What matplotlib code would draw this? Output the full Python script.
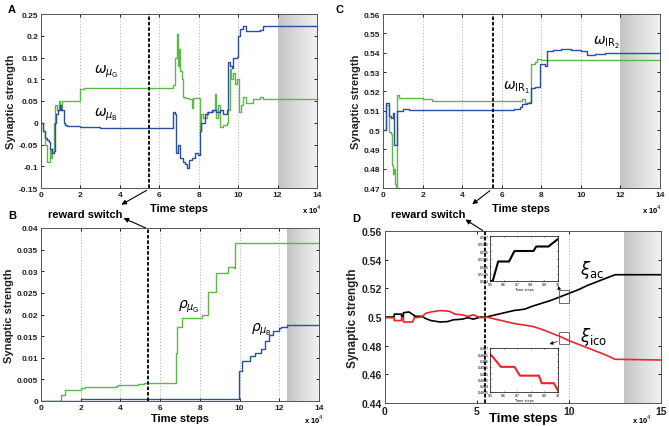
import matplotlib
matplotlib.use("Agg")
import matplotlib.pyplot as plt
import numpy as np
from matplotlib.ticker import FuncFormatter

plt.rcParams["font.family"] = ["Liberation Sans", "DejaVu Sans"]
plt.rcParams["axes.unicode_minus"] = False
plt.rcParams["mathtext.fontset"] = "dejavusans"

#------------------------
# Datos (leidos a ojo)
#------------------------
GREEN = "#5cb848"
BLUE = "#2b4ea0"
RED = "#e8262a"

# Panel A
a_g_x = [0, 0.1, 0.2, 0.3, 0.44, 0.5, 0.56, 0.64, 0.69, 0.72, 0.8, 0.9, 0.98, 1.06, 1.15, 2.0, 2.16,
         6.7, 6.8, 6.88, 6.93, 6.98, 7.05, 7.13, 7.22, 7.3, 7.5, 7.64, 7.7, 8.06, 8.12, 8.23, 8.4, 8.73,
         8.82, 8.9, 8.99, 9.07, 9.24, 9.41, 9.49, 9.58, 9.65, 9.75, 9.85, 9.95, 10.05, 10.15, 10.25,
         10.42, 10.76, 11.1, 11.26, 14]
a_g_y = [0, -0.02, -0.05, -0.09, -0.06, -0.08, -0.06, 0.0, 0.035, 0.04, 0.03, 0.05, 0.03, 0.05, 0.051, 0.077, 0.079,
         0.087, 0.15, 0.205, 0.13, 0.17, 0.12, 0.1, 0.06, 0.056, 0.055, 0.035, 0.056, -0.02, 0.02, 0.01, 0.024, 0.03,
         0.066, 0.01, 0.04, -0.01, -0.005, 0.0, 0.03, 0.124, 0.1, 0.115, 0.09, 0.1, 0.025, 0.04, 0.06,
         0.045, 0.055, 0.06, 0.054, 0.054]

a_b_x = [0, 0.1, 0.2, 0.3, 0.39, 0.47, 0.56, 0.64, 0.69, 0.76, 0.84, 0.94, 1.03, 1.15, 1.23, 1.3, 2.0, 3.0,
         6.68, 6.8, 6.85, 6.96, 7.05, 7.18, 7.3, 7.42, 7.52, 7.64, 7.8, 7.98, 8.06, 8.12, 8.31, 8.48, 8.65, 8.9,
         9.07, 9.24, 9.41, 9.49, 9.61, 9.7, 9.76, 9.95, 10.0, 10.08, 10.25, 10.42, 11.1, 11.26, 14]
a_b_y = [0, -0.02, -0.035, -0.04, -0.045, -0.06, -0.07, -0.065, 0.0, 0.02, 0.03, 0.04, 0.03, 0.0, -0.005, -0.008, -0.01, -0.012,
         0.025, 0.02, -0.07, -0.05, -0.08, -0.09, -0.095, -0.105, -0.085, -0.08, -0.07, -0.075, -0.02, 0.0, 0.02, 0.025, 0.03, 0.025,
         0.03, 0.02, 0.03, 0.14, 0.13, 0.125, 0.15, 0.152, 0.2, 0.215, 0.222, 0.212, 0.213, 0.222, 0.222]

# Panel B
b_g_x = [0, 1.0, 1.2, 2.0, 2.2, 3.8, 3.9, 4.5, 4.9, 5.2, 6.82, 6.86, 6.9, 7.1, 8.0, 8.1, 8.4, 8.8, 9.4, 9.7, 9.75, 14]
b_g_y = [0, 0.0015, 0.0025, 0.003, 0.0033, 0.0034, 0.0036, 0.0038, 0.004, 0.0042, 0.011, 0.017, 0.017, 0.0192, 0.0192, 0.02,
         0.0252, 0.0297, 0.031, 0.0308, 0.0365, 0.0365]
b_b_x = [0, 2.0, 9.9, 9.95, 10.1, 10.5, 10.8, 11.1, 11.3, 11.5, 11.7, 12.0, 12.1, 12.4, 14]
b_b_y = [0, 0.0005, 0.0005, 0.007, 0.0092, 0.0103, 0.011, 0.012, 0.0138, 0.0153, 0.0163, 0.0168, 0.017, 0.0175, 0.0175]

# Panel C
c_g_x = [0, 0.15, 0.3, 0.4, 0.45, 0.5, 0.55, 0.6, 0.65, 0.7, 0.8, 2.0, 2.5, 7.0, 7.2, 7.4, 7.5, 7.7, 7.8, 8.0, 14]
c_g_y = [0.5, 0.513, 0.499, 0.498, 0.482, 0.477, 0.48, 0.472, 0.469, 0.518, 0.5165, 0.516, 0.5152, 0.516, 0.514, 0.5145, 0.534,
         0.535, 0.5365, 0.536, 0.536]
c_b_x = [0, 0.15, 0.3, 0.4, 0.5, 0.55, 0.7, 1.0, 1.3, 6.6, 6.9, 7.0, 7.3, 7.5, 7.7, 7.9, 7.95, 8.2, 8.3, 8.6, 9.0, 9.5, 10.0,
         10.3, 10.7, 11.2, 14]
c_b_y = [0.5, 0.514, 0.507, 0.506, 0.509, 0.492, 0.510, 0.511, 0.5105, 0.511, 0.512, 0.5135, 0.514, 0.5215, 0.5225, 0.522,
         0.534, 0.533, 0.541, 0.5415, 0.542, 0.5415, 0.541, 0.539, 0.5395, 0.5398, 0.5398]

# Panel D
d_ac_x = [0, 0.5, 0.5, 0.9, 0.9, 1.0, 1.0, 1.3, 1.3, 1.6, 1.6, 2.0, 2.2, 2.5, 3.0, 3.4, 3.7, 4.2, 4.5, 4.8, 5.2, 5.5,
          6.0, 6.5, 7.0, 7.3, 7.6, 8.0, 8.5, 9.0, 9.5, 10.0, 10.5, 11.0, 11.5, 12.0, 12.5, 15]
d_ac_y = [0.5, 0.5, 0.502, 0.502, 0.5005, 0.5005, 0.503, 0.5035, 0.5035, 0.501, 0.5005, 0.5005, 0.499, 0.4975, 0.4965,
          0.4968, 0.498, 0.4985, 0.4995, 0.4985, 0.5, 0.5, 0.5015, 0.503, 0.5045, 0.505, 0.5055, 0.5075, 0.5095, 0.5115,
          0.514, 0.5165, 0.519, 0.522, 0.5245, 0.527, 0.5295, 0.5295]
d_ico_x = [0, 0.5, 0.5, 0.9, 0.9, 1.0, 1.0, 1.5, 1.6, 2.0, 2.2, 2.5, 3.0, 3.5, 3.8, 4.2, 4.5, 4.8, 5.2, 5.5, 6.0, 6.5, 7.0,
           7.5, 8.0, 8.5, 9.0, 9.5, 10.0, 10.5, 11.0, 11.5, 12.0, 12.5, 15]
d_ico_y = [0.4995, 0.4995, 0.4975, 0.4975, 0.4995, 0.4995, 0.4965, 0.4965, 0.4995, 0.5, 0.5025, 0.5035, 0.5045, 0.504,
           0.502, 0.5015, 0.5005, 0.5015, 0.4995, 0.5, 0.4985, 0.497, 0.4955, 0.4945, 0.4935, 0.4915, 0.489, 0.4865,
           0.4835, 0.481, 0.4785, 0.476, 0.4735, 0.4705, 0.470]

# Insets (x en unidades de 1e4)
ins_ac_x = [9.5, 9.52, 9.56, 9.64, 9.68, 9.82, 9.84, 9.93, 10.0]
ins_ac_y = [0.514, 0.514, 0.5153, 0.5153, 0.516, 0.516, 0.5163, 0.5163, 0.5168]
ins_ico_x = [9.5, 9.52, 9.58, 9.68, 9.72, 9.86, 9.88, 9.97, 10.0]
ins_ico_y = [0.4865, 0.4863, 0.4855, 0.4855, 0.4848, 0.4848, 0.4842, 0.4842, 0.4836]

#------------------------
# Figura
#------------------------
W, H = 669, 427
fig = plt.figure(figsize=(W / 100, H / 100), dpi=100)


def rect(l, t, r, b):
    return [l / W, (H - b) / H, (r - l) / W, (b - t) / H]


def style(ax, xmax, ylim, yticks, xticks, grid_x, shade, fs=6):
    ax.set_xlim(0, xmax)
    ax.set_ylim(*ylim)
    ax.set_yticks(yticks)
    ax.set_xticks(xticks)
    ax.yaxis.set_major_formatter(FuncFormatter(lambda v, p: "%g" % round(v, 4)))
    ax.xaxis.set_major_formatter(FuncFormatter(lambda v, p: "%g" % v))
    ax.tick_params(direction="in", length=2.5, width=0.6, labelsize=fs, top=True, right=True, pad=2,
                   labelcolor="#222222")
    for lab in ax.get_xticklabels() + ax.get_yticklabels():
        lab.set_fontweight("bold")
    for x in grid_x:
        ax.axvline(x, color="#b0b0b0", lw=0.6, ls=(0, (1.5, 2)), zorder=0)
    grad = np.linspace(0, 1, 100).reshape(1, -1)
    ax.imshow(grad, extent=[shade, xmax, ylim[0], ylim[1]], aspect="auto", cmap="Greys_r",
              vmin=-2.83, vmax=1.52, zorder=0.5)
    for s in ax.spines.values():
        s.set_linewidth(0.7)
        s.set_color("#555555")
    ax.set_ylabel("Synaptic strength", fontsize=8, fontweight="bold", color="#222222", labelpad=2)


# A
axA = fig.add_axes(rect(41, 15, 317, 189))
axA.plot(a_g_x, a_g_y, drawstyle="steps-post", color=GREEN, lw=1.0)
axA.plot(a_b_x, a_b_y, drawstyle="steps-post", color=BLUE, lw=1.0)
style(axA, 14, (-0.15, 0.25), np.arange(-0.15, 0.2501, 0.05), range(0, 15, 2), [2, 4, 6, 8, 10], 12)
axA.axvline(5.48, color="k", lw=1.3, ls=(0, (2, 1)), zorder=3)
axA.text(2.7, 0.115, r"$\omega_{\mu_\mathrm{G}}$", fontsize=10)
axA.text(2.7, 0.016, r"$\omega_{\mu_\mathrm{B}}$", fontsize=10)
axA.set_xlabel("Time steps", fontsize=8, fontweight="bold", labelpad=4)

# B
axB = fig.add_axes(rect(41, 229, 319, 402))
axB.plot(b_g_x, b_g_y, drawstyle="steps-post", color=GREEN, lw=1.0)
axB.plot(b_b_x, b_b_y, drawstyle="steps-post", color=BLUE, lw=1.0)
style(axB, 14, (0, 0.04), np.arange(0, 0.04001, 0.005), range(0, 15, 2), [2, 4, 6, 8, 10, 12], 12.4)
axB.axvline(5.41, color="k", lw=1.3, ls=(0, (2, 1)), zorder=3)
axB.text(6.9, 0.0215, r"$\rho_{\mu_\mathrm{G}}$", fontsize=10)
axB.text(10.6, 0.0163, r"$\rho_{\mu_\mathrm{B}}$", fontsize=10)
axB.set_xlabel("Time steps", fontsize=8, fontweight="bold")
axB.xaxis.set_label_coords(0.5, -(419 - 402) / 173)
axB.xaxis.label.set_va("center")

# C
axC = fig.add_axes(rect(383, 15, 660, 189))
axC.plot(c_g_x, c_g_y, drawstyle="steps-post", color=GREEN, lw=1.0)
axC.plot(c_b_x, c_b_y, drawstyle="steps-post", color=BLUE, lw=1.0)
style(axC, 14, (0.47, 0.56), np.arange(0.47, 0.5601, 0.01), range(0, 15, 2), [2, 4, 6, 8, 10], 12)
axC.axvline(5.54, color="k", lw=1.3, ls=(0, (2, 1)), zorder=3)
axC.text(10.6, 0.5445, r"$\omega_{\mathrm{IR}_2}$", fontsize=10)
axC.text(6.05, 0.521, r"$\omega_{\mathrm{IR}_1}$", fontsize=10)
axC.set_xlabel("Time steps", fontsize=8, fontweight="bold", labelpad=4)

# D
axD = fig.add_axes(rect(385, 232, 661, 404))
axD.plot(d_ac_x, d_ac_y, color="k", lw=1.2)
axD.plot(d_ico_x, d_ico_y, color=RED, lw=1.2)
style(axD, 15, (0.44, 0.56), np.arange(0.44, 0.5601, 0.02), [0, 5, 10, 15], [10], 13, fs=7.5)
axD.set_ylabel("Synaptic strength", fontsize=8.5, fontweight="bold", color="#222222", labelpad=2)
axD.axvline(5.43, color="k", lw=1.3, ls=(0, (2, 1)), zorder=3)
axD.text(10.6, 0.53, r"$\xi_{\mathrm{ac}}$", fontsize=12)
axD.text(10.6, 0.4835, r"$\xi_{\mathrm{ico}}$", fontsize=12)
axD.set_xlabel("Time steps", fontsize=9.5, fontweight="bold")
axD.xaxis.set_label_coords(0.5, -(419 - 404) / 172)
axD.xaxis.label.set_va("center")
axD.add_patch(plt.Rectangle((9.45, 0.5096), 0.57, 0.0093, fill=False, ec="#555555", lw=0.6, zorder=4))
axD.add_patch(plt.Rectangle((9.45, 0.4809), 0.57, 0.0088, fill=False, ec="#555555", lw=0.6, zorder=4))
axD.annotate("", xy=(9.38, 0.5235), xytext=(9.47, 0.519),
             arrowprops=dict(arrowstyle="-|>", color="k", lw=0.5, mutation_scale=5))
axD.annotate("", xy=(8.8, 0.4805), xytext=(9.5, 0.4835),
             arrowprops=dict(arrowstyle="-|>", color="k", lw=0.5, mutation_scale=5))

# insets
for pos, xs, ys, col, ylo, yhi in [
    (rect(490, 237, 558, 282), ins_ac_x, ins_ac_y, "k", 0.514, 0.517),
    (rect(490, 349, 558, 393), ins_ico_x, ins_ico_y, RED, 0.4835, 0.487),
]:
    ai = fig.add_axes(pos)
    ai.plot(xs, ys, color=col, lw=1.5)
    ai.set_xlim(9.5, 10)
    ai.set_ylim(ylo, yhi)
    ai.set_xticks([9.5, 9.6, 9.7, 9.8, 9.9, 10])
    ai.set_yticks(np.arange(ylo, yhi + 1e-6, 0.0005))
    ai.xaxis.set_major_formatter(FuncFormatter(lambda v, p: "%g" % round(v, 1)))
    ai.yaxis.set_major_formatter(FuncFormatter(lambda v, p: "%g" % round(v, 4)))
    ai.tick_params(direction="in", length=1, width=0.4, labelsize=2.6, pad=1, top=True, right=True)
    ai.set_xlabel("Time steps", fontsize=2.8, labelpad=0.5)
    for s in ai.spines.values():
        s.set_linewidth(0.5)

# textos de figura
for x, y, s in [(8, 10, "A"), (8, 216, "B"), (335, 10, "C"), (352, 219, "D")]:
    fig.text(x / W, 1 - y / H, s, fontsize=8, fontweight="bold", va="center", ha="left")
for x, y in [(302, 210), (304, 420), (642, 210), (632, 420)]:
    fig.text(x / W, 1 - y / H, r"x 10$^4$", fontsize=5.5, fontweight="bold", va="center", ha="left")
for x, y in [(85, 215), (428, 215)]:
    fig.text(x / W, 1 - y / H, "reward switch", fontsize=8, fontweight="bold", va="center", ha="center")

# flechas del reward switch
for tail, head in [((149, 190), (119, 207)), ((148, 230), (121, 218)),
                   ((492, 190), (470, 207)), ((485, 233), (463, 219))]:
    fig.add_artist(matplotlib.patches.FancyArrowPatch(
        (tail[0] / W, 1 - tail[1] / H), (head[0] / W, 1 - head[1] / H),
        transform=fig.transFigure, arrowstyle="-|>", mutation_scale=7, color="k", lw=0.8))

fig.savefig("out.png", dpi=100)
